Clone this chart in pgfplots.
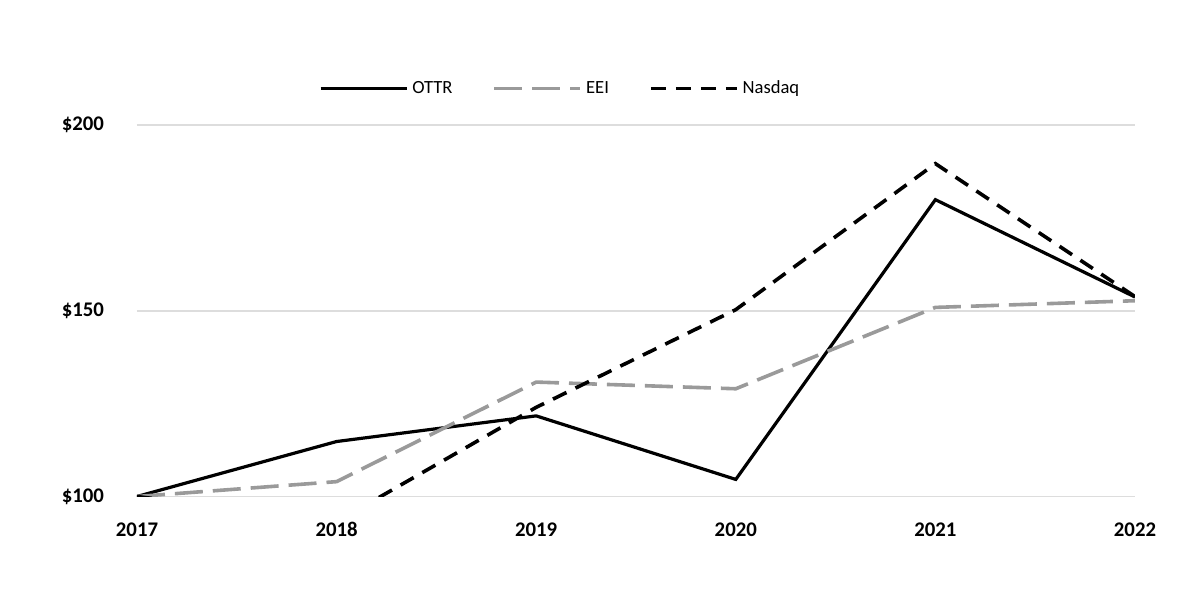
\documentclass[border=0pt]{standalone}
\usepackage{pgfplots}
\pgfplotsset{compat=1.18}
\usepackage{fontspec}
\setmainfont{Carlito}
\definecolor{eeigray}{HTML}{9A9A9A}
\definecolor{gridgray}{HTML}{DDDDDD}
\begin{document}
\begin{tikzpicture}
\path[use as bounding box] (-68.5pt,-51.75pt) rectangle (531.5pt,248.25pt);
\begin{axis}[
  at={(0,0)}, anchor=south west,
  scale only axis, width=499pt, height=185.75pt,
  xmin=2017, xmax=2022, ymin=100, ymax=200,
  xtick={2017,2018,2019,2020,2021,2022},
  xticklabels={2017,2018,2019,2020,2021,2022},
  ytick={100,150,200},
  yticklabels={\$100,\$150,\$200},
  /pgf/number format/assume math mode=true,
  ticklabel style={font=\fontsize{10.4}{12}\selectfont\bfseries},
  yticklabel style={xshift=-13pt},
  xticklabel style={text height=1.6ex, text depth=0.2ex, anchor=north, yshift=-9pt},
  major tick length=0pt,
  axis line style={draw=none},
  ymajorgrids, major grid style={draw=gridgray, line width=0.8pt},
  legend style={at={(0.425,1.098)}, anchor=center, draw=none, fill=none,
    legend columns=3, font=\fontsize{9.3}{11}\selectfont,
    /tikz/every even column/.append style={column sep=18pt}},
  legend cell align=left,
  legend image code/.code={\draw[#1] (0pt,0pt) -- (43pt,0pt);},
]
\addplot[black, line width=1.6pt, line join=miter] coordinates {
  (2017,100) (2018,114.8) (2019,121.7) (2020,104.6) (2021,179.9) (2022,153.7)};
\addlegendentry{OTTR}
\addplot[eeigray, line width=1.8pt, dash pattern=on 14pt off 5pt] coordinates {
  (2017,100) (2018,104) (2019,130.8) (2020,129) (2021,150.9) (2022,152.7)};
\addlegendentry{EEI}
\addplot[black, line width=1.8pt, dash pattern=on 7.5pt off 5pt] coordinates {
  (2017,100) (2018,93.2) (2019,124) (2020,150.3) (2021,189.6) (2022,153.8)};
\addlegendentry{Nasdaq}
\end{axis}
\end{tikzpicture}
\end{document}
